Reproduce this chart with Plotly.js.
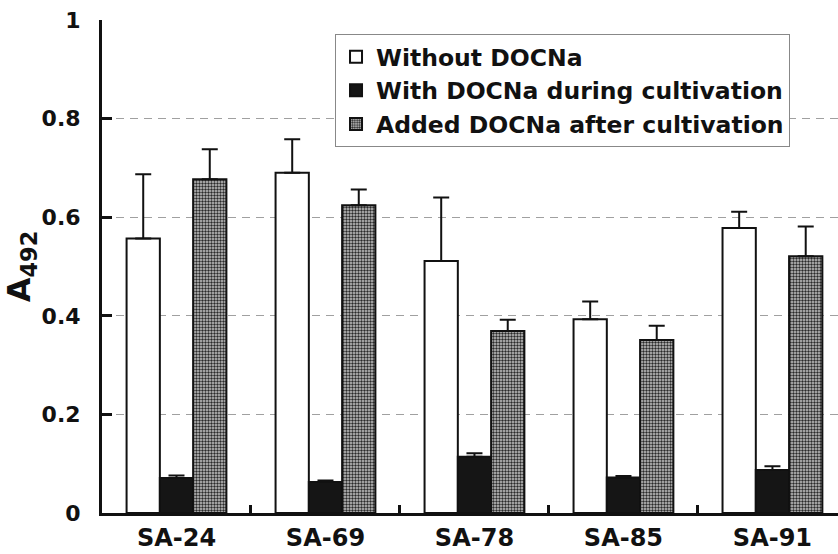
<!DOCTYPE html>
<html>
<head>
<meta charset="utf-8">
<script src="https://cdn.plot.ly/plotly-3.0.1.min.js"></script>
<style>
  html, body { margin: 0; padding: 0; background: #ffffff; }
  #chart { width: 838px; height: 554px; }
</style>
</head>
<body>
<div id="chart"></div>
<script>
const categories = ['SA-24', 'SA-69', 'SA-78', 'SA-85', 'SA-91'];
const seriesNames = ['Without DOCNa', 'With DOCNa during cultivation', 'Added DOCNa after cultivation'];
const withoutValues = [0.557, 0.690, 0.511, 0.393, 0.578];
const withoutErrors = [0.130, 0.068, 0.129, 0.036, 0.033];
const duringValues = [0.071, 0.063, 0.114, 0.072, 0.087];
const duringErrors = [0.005, 0.003, 0.007, 0.003, 0.008];
const afterValues = [0.677, 0.624, 0.369, 0.351, 0.521];
const afterErrors = [0.061, 0.032, 0.023, 0.029, 0.060];
const yTickValues = [0, 0.2, 0.4, 0.6, 0.8, 1];

const zeros = categories.map(() => 0);
function errBar(arr) {
  return { type: 'data', array: arr, arrayminus: zeros, symmetric: false, visible: true,
           color: '#111', thickness: 2, width: 8 };
}

const traces = [
  { type: 'bar', name: seriesNames[0], x: categories, y: withoutValues, error_y: errBar(withoutErrors),
    marker: { color: '#ffffff', line: { color: '#111', width: 2 } } },
  { type: 'bar', name: seriesNames[1], x: categories, y: duringValues, error_y: errBar(duringErrors),
    marker: { color: '#151515', line: { color: '#111', width: 2 } } },
  { type: 'bar', name: seriesNames[2], x: categories, y: afterValues, error_y: errBar(afterErrors),
    marker: { color: '#777777', line: { color: '#111', width: 2 },
              pattern: { shape: '.', size: 3, solidity: 0.5, fgcolor: '#2a2a2a', bgcolor: '#c8c8c8', fillmode: 'replace' } } }
];

const fontFam = 'DejaVu Sans, Liberation Sans, sans-serif';

const layout = {
  width: 838, height: 554,
  margin: { l: 102, r: 0, t: 20, b: 41 },
  paper_bgcolor: '#ffffff', plot_bgcolor: '#ffffff',
  font: { family: fontFam, color: '#111', size: 22 },
  barmode: 'group', bargap: 0.33, bargroupgap: 0,
  showlegend: true,
  legend: {
    x: 0.3166, y: 0.9716, xanchor: 'left', yanchor: 'top',
    bgcolor: '#ffffff', bordercolor: '#888', borderwidth: 1,
    font: { family: fontFam, size: 23.5, color: '#111', weight: 'bold' },
    traceorder: 'normal'
  },
  xaxis: {
    type: 'category', range: [-0.5, 4.44],
    showline: true, linecolor: '#111', linewidth: 3,
    ticks: 'inside', ticklen: 8, tickwidth: 3, tickcolor: '#111', tickson: 'boundaries',
    showgrid: false, zeroline: false,
    tickfont: { family: fontFam, size: 24, color: '#111', weight: 'bold' },
    ticklabelstandoff: 1
  },
  yaxis: {
    range: [0, 1], tickvals: yTickValues, ticktext: yTickValues.map(v => String(v)),
    showline: true, linecolor: '#111', linewidth: 3,
    ticks: 'inside', ticklen: 10, tickwidth: 3, tickcolor: '#111',
    showgrid: true, gridcolor: '#a0a0a0', gridwidth: 1, griddash: '8px,6px',
    zeroline: false,
    tickfont: { family: fontFam, size: 22, color: '#111', weight: 'bold' },
    ticklabelstandoff: 14,
    title: { text: 'A<sub>492</sub>', standoff: 12,
             font: { family: fontFam, size: 32, color: '#111', weight: 'bold' } }
  }
};

Plotly.newPlot('chart', traces, layout, { displayModeBar: false, staticPlot: true });
</script>
</body>
</html>
